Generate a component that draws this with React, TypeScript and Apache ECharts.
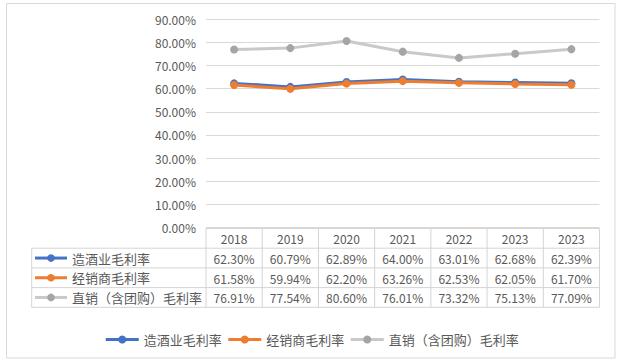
import React, { useEffect, useRef } from "react";
import * as echarts from "echarts";

const categories = ["2018", "2019", "2020", "2021", "2022", "2023", "2023"];
const seriesNames = ["造酒业毛利率", "经销商毛利率", "直销（含团购）毛利率"];
const brewing = [62.3, 60.79, 62.89, 64.0, 63.01, 62.68, 62.39];
const dealer = [61.58, 59.94, 62.2, 63.26, 62.53, 62.05, 61.7];
const direct = [76.91, 77.54, 80.6, 76.01, 73.32, 75.13, 77.09];
const yTicks = [0, 10, 20, 30, 40, 50, 60, 70, 80, 90];

const lineColors = ["#4472C4", "#ED7D31", "#C9C9C9"];
const markColors = ["#4472C4", "#ED7D31", "#A5A5A5"];

const W = 623;
const H = 363;
const FONT = "'Noto Sans CJK SC', 'Noto Sans', sans-serif";
const TEXT = "#595959";
const BORDER = "#D4D4D4";

export default function App() {
  const ref = useRef<HTMLDivElement>(null);
  useEffect(() => {
    if (!ref.current) return;
    const chart = echarts.init(ref.current, null, { renderer: "svg", width: W, height: H });
    const gridLeft = 206;
    const gridRight = 599.5;
    const gridTop = 19.3;
    const gridBottom = 227.5;
    const allSeries = [brewing, dealer, direct];

    const tableTop = 228.5;
    const rowH = 19.7;
    const tableLeft = 31.7;
    const n = categories.length;
    const colW = (gridRight - gridLeft) / n;
    const rows = [tableTop, tableTop + rowH, tableTop + 2 * rowH, tableTop + 3 * rowH, tableTop + 4 * rowH];

    const graphics: any[] = [];
    graphics.push({
      type: "rect",
      shape: { x: 6.5, y: 3.5, width: 608.5, height: 354.5 },
      style: { fill: "none", stroke: "#D9D9D9", lineWidth: 1 },
      silent: true,
    });
    graphics.push({
      type: "line",
      shape: { x1: gridLeft, y1: rows[0], x2: gridRight, y2: rows[0] },
      style: { stroke: BORDER, lineWidth: 1 },
    });
    for (let r = 1; r < rows.length; r++) {
      graphics.push({
        type: "line",
        shape: { x1: tableLeft, y1: rows[r], x2: gridRight, y2: rows[r] },
        style: { stroke: BORDER, lineWidth: 1 },
      });
    }
    graphics.push({
      type: "line",
      shape: { x1: tableLeft, y1: rows[1], x2: tableLeft, y2: rows[4] },
      style: { stroke: BORDER, lineWidth: 1 },
    });
    for (let k = 0; k <= n; k++) {
      const x = gridLeft + k * colW;
      graphics.push({
        type: "line",
        shape: { x1: x, y1: rows[0], x2: x, y2: rows[4] },
        style: { stroke: BORDER, lineWidth: 1 },
      });
    }
    categories.forEach((c, i) => {
      graphics.push({
        type: "text",
        x: gridLeft + (i + 0.5) * colW,
        y: (rows[0] + rows[1]) / 2 + 0.5,
        style: { text: c, fill: TEXT, font: `12px ${FONT}`, align: "center", verticalAlign: "middle" },
      });
    });
    allSeries.forEach((vals, s) => {
      const yc = (rows[s + 1] + rows[s + 2]) / 2;
      graphics.push({
        type: "line",
        shape: { x1: 35, y1: yc, x2: 67, y2: yc },
        style: { stroke: lineColors[s], lineWidth: 3 },
      });
      graphics.push({
        type: "circle",
        shape: { cx: 51, cy: yc, r: 3.8 },
        style: { fill: markColors[s] },
      });
      graphics.push({
        type: "text",
        x: 72,
        y: yc,
        style: { text: seriesNames[s], fill: TEXT, font: `13px ${FONT}`, align: "left", verticalAlign: "middle" },
      });
      vals.forEach((v, i) => {
        graphics.push({
          type: "text",
          x: gridLeft + (i + 0.5) * colW,
          y: yc + 0.5,
          style: { text: v.toFixed(2) + "%", fill: TEXT, font: `12px ${FONT}`, align: "center", verticalAlign: "middle" },
        });
      });
    });

    chart.setOption({
      animation: false,
      backgroundColor: "#ffffff",
      textStyle: { fontFamily: FONT },
      grid: {
        left: gridLeft,
        right: W - gridRight,
        top: gridTop,
        bottom: H - gridBottom,
        containLabel: false,
      },
      legend: {
        data: seriesNames,
        left: "center",
        top: 328,
        itemWidth: 33,
        itemHeight: 10,
        itemGap: 5,
        lineStyle: { width: 3 },
        textStyle: { color: TEXT, fontSize: 13, fontFamily: FONT },
      },
      xAxis: {
        type: "category",
        data: categories,
        boundaryGap: true,
        axisLine: { show: false },
        axisTick: { show: false },
        axisLabel: { show: false },
        splitLine: { show: false },
      },
      yAxis: {
        type: "value",
        min: 0,
        max: 90,
        interval: 10,
        axisLine: { show: false },
        axisTick: { show: false },
        axisLabel: {
          color: TEXT,
          fontSize: 12,
          fontFamily: FONT,
          margin: 10,
          formatter: (v: number) => (yTicks.includes(v) ? v.toFixed(2) + "%" : ""),
        },
        splitLine: { show: true, lineStyle: { color: "#D9D9D9", width: 1 } },
      },
      series: allSeries.map((vals, s) => ({
        name: seriesNames[s],
        type: "line",
        data: vals,
        symbol: "circle",
        symbolSize: 8,
        lineStyle: { color: lineColors[s], width: 3 },
        itemStyle: { color: markColors[s] },
        z: 2 + s,
      })),
      graphic: graphics,
    });
    return () => chart.dispose();
  }, []);
  return (
    <div
      ref={ref}
      style={{ position: "fixed", left: 0, top: 0, width: W, height: H, background: "#fff" }}
    />
  );
}
